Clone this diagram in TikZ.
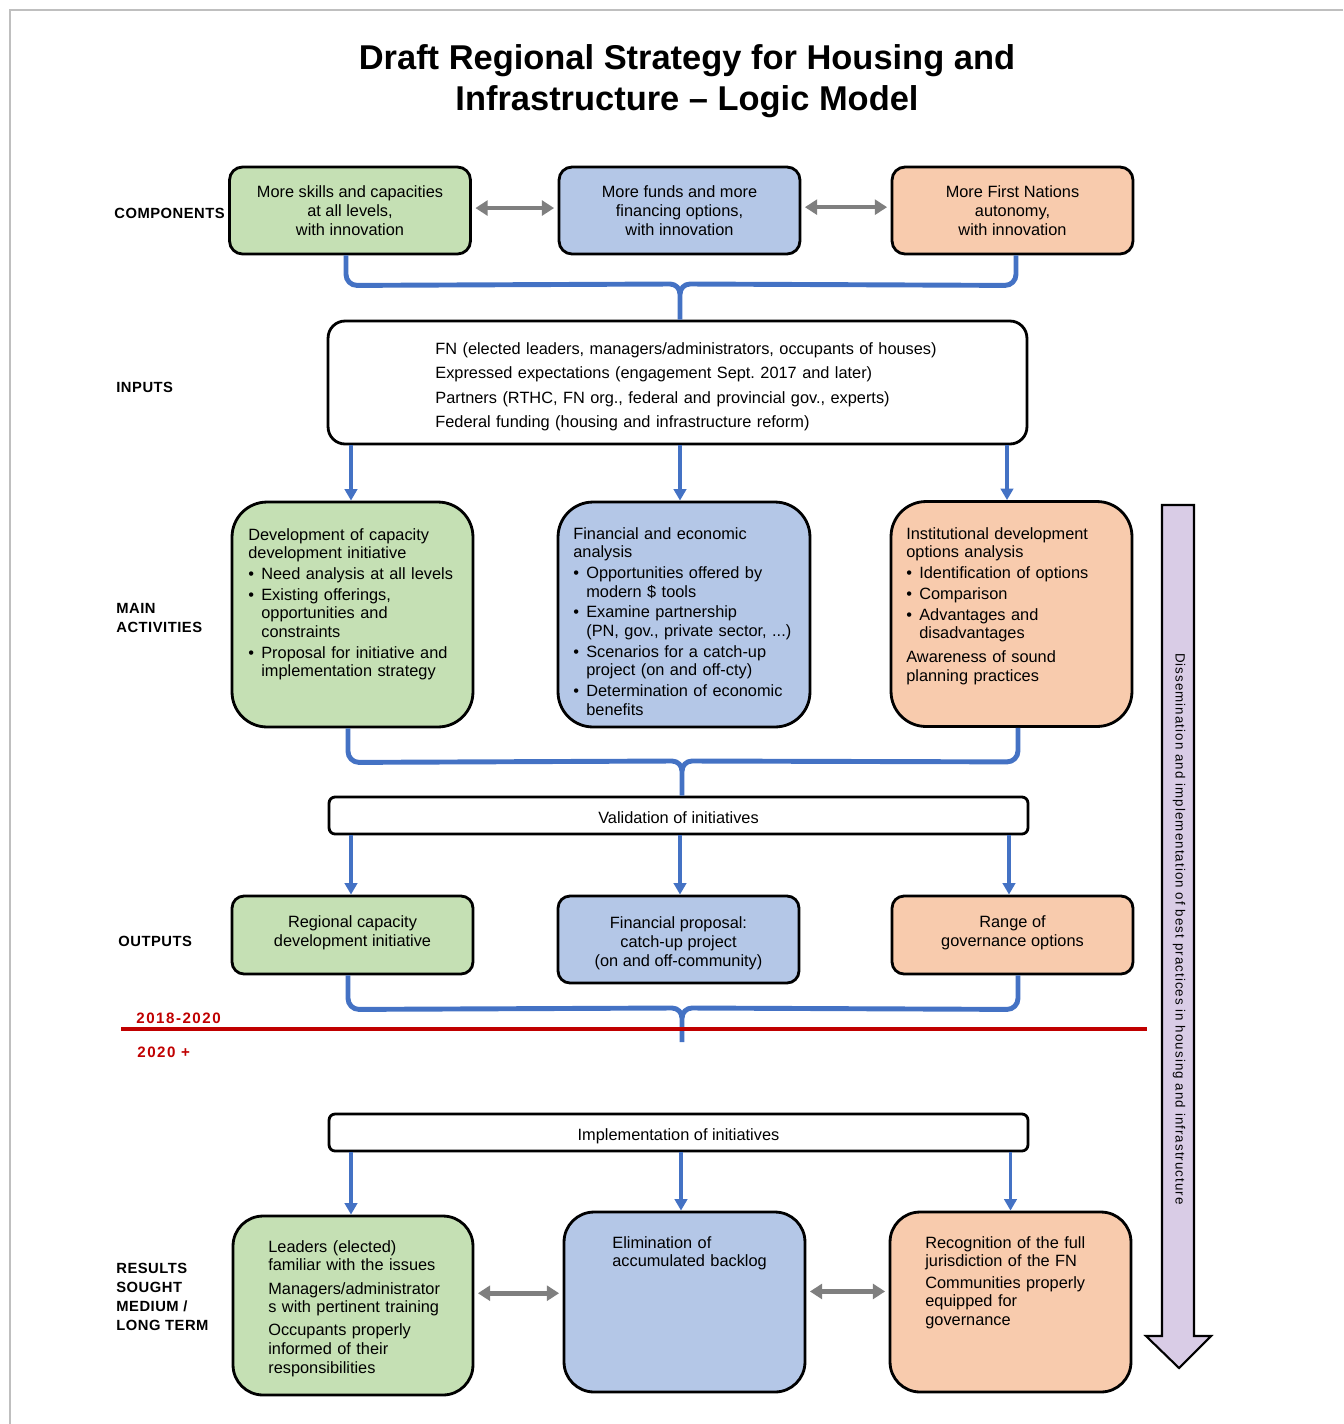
\documentclass[tikz,border=0pt]{standalone}
\usepackage{fontspec}
\setmainfont{Liberation Sans}
\newfontfamily\capsfont[LetterSpace=3.5]{Liberation Sans}
\newfontfamily\yearfont[LetterSpace=10]{Liberation Sans}
\newfontfamily\sidefont[LetterSpace=8]{Liberation Sans}
\usetikzlibrary{arrows.meta,calc}
\setlength{\parindent}{0pt}
\frenchspacing

\definecolor{skillgreen}{HTML}{C5E0B4}
\definecolor{fundblue}{HTML}{B4C7E7}
\definecolor{autopeach}{HTML}{F8CBAD}
\definecolor{sidelilac}{HTML}{D9CCE6}
\definecolor{linkblue}{HTML}{4472C4}
\definecolor{linkgray}{HTML}{7F7F7F}
\definecolor{yearred}{HTML}{C00000}
\definecolor{framegray}{HTML}{BFBFBF}

\newcommand\bul[1]{\par\vspace{1.2pt}\hangindent=7.4pt\hangafter=1\makebox[7.4pt][l]{\textbullet}#1}

\tikzset{
	cbox/.style={draw=black, line width=1.6pt, inner sep=0pt, align=center,
		font=\fontsize{9.3}{11}\selectfont},
	compbox/.style={cbox, minimum width=4.82cm, minimum height=1.74cm, rounded corners=0.26cm},
	widebox/.style={cbox, fill=white, minimum width=13.98cm, minimum height=2.46cm, rounded corners=0.34cm},
	actbox/.style={cbox, minimum height=4.5cm, rounded corners=0.7cm},
	stepbar/.style={cbox, fill=white, minimum width=13.98cm, minimum height=0.74cm, rounded corners=0.12cm,
		text height=9.4pt, text depth=0pt},
	outbox/.style={cbox, minimum width=4.82cm, rounded corners=0.24cm},
	resbox/.style={cbox, minimum width=4.82cm, minimum height=3.6cm, rounded corners=0.6cm},
	boxtext/.style={anchor=north west, inner sep=0pt, align=left, text width=4.7cm,
		font=\fontsize{9.3}{10.6}\selectfont},
	outtext/.style={inner sep=0pt, align=center, font=\fontsize{9.3}{10.9}\selectfont},
	rowlabel/.style={anchor=west, inner sep=0pt, align=left,
		font=\capsfont\bfseries\fontsize{8.4}{10.8}\selectfont},
	yearlabel/.style={anchor=west, inner sep=0pt, text=yearred,
		font=\yearfont\bfseries\fontsize{8.6}{10.8}\selectfont},
	title/.style={align=center, inner sep=0pt, font=\bfseries\fontsize{19.6}{23.2}\selectfont},
	flow/.style={draw=linkblue, line width=1.8pt, -{Triangle[length=6.5pt,width=7pt]}},
	brace/.style={draw=linkblue, line width=2.8pt, line join=round},
	twoway/.style={draw=linkgray, line width=2.6pt, shorten <=2pt, shorten >=2pt,
		{Triangle[length=7pt,width=8.5pt]}-{Triangle[length=7pt,width=8.5pt]}},
}

\begin{document}
\begin{tikzpicture}[x=0.02cm,y=-0.02cm]
	\useasboundingbox (0,0) rectangle (1343,1424);
	\draw[framegray, line width=0.6pt] (1343,10) -- (10,10) -- (10,1424);
	
	%%%%% TITLE %%%%%
	\node[title] (title) at (687,81) {Draft Regional Strategy for Housing and\\Infrastructure – Logic Model};
	
	%%%%% ROW LABELS %%%%%
	\node[rowlabel] (lcomp) at (114,213) {COMPONENTS};
	\node[rowlabel] (linput) at (116,387) {INPUTS};
	\node[rowlabel] (lact) at (116,618) {MAIN\\ACTIVITIES};
	\node[rowlabel] (lout) at (118,941) {OUTPUTS};
	\node[rowlabel] (lres) at (116,1297) {RESULTS\\SOUGHT\\MEDIUM /\\LONG TERM};
	\node[yearlabel] (lyear1) at (136,1018) {2018-2020};
	\node[yearlabel] (lyear2) at (137,1052) {2020 +};
	
	%%%%% COMPONENTS %%%%%
	\node[compbox, fill=skillgreen] (comp1) at (350,210.5) {More skills and capacities\\at all levels,\\with innovation};
	\node[compbox, fill=fundblue] (comp2) at (679.5,210.5) {More funds and more\\financing options,\\with innovation};
	\node[compbox, fill=autopeach] (comp3) at (1012.5,210.5) {More First Nations\\autonomy,\\with innovation};
	\draw[twoway] ([yshift=1.4pt]comp1.east) -- ([yshift=1.4pt]comp2.west);
	\draw[twoway] ([yshift=1.9pt]comp2.east) -- ([yshift=1.9pt]comp3.west);
	
	%%%%% INPUTS %%%%%
	\node[widebox] (inputs) at (677.5,382.5) {};
	\node[boxtext, text width=12cm, font=\fontsize{9.3}{13.9}\selectfont] (inputtext) at (435,342)
		{FN (elected leaders, managers/administrators, occupants of houses)\\
		Expressed expectations (engagement Sept. 2017 and later)\\
		Partners (RTHC, FN org., federal and provincial gov., experts)\\
		Federal funding (housing and infrastructure reform)};
	
	\coordinate (j1) at (680,284);
	\draw[brace] ([xshift=-0.08cm]comp1.south) -- ++(0,19) to[out=-90,in=180] ++(11,11)
		-- ([xshift=-0.2cm]j1) to[out=0,in=90] ([yshift=-0.2cm]j1) -- (j1 |- inputs.north);
	\draw[brace] ([xshift=0.07cm]comp3.south) -- ++(0,19) to[out=-90,in=0] ++(-11,11)
		-- ([xshift=0.2cm]j1) to[out=180,in=90] ([yshift=-0.2cm]j1);
	
	%%%%% MAIN ACTIVITIES %%%%%
	\node[actbox, fill=skillgreen, minimum width=4.82cm] (act1) at (352.5,614.5) {};
	\node[actbox, fill=fundblue, minimum width=5.04cm] (act2) at (684,614.5) {};
	\node[actbox, fill=autopeach, minimum width=4.82cm] (act3) at (1011.5,614) {};
	
	\node[boxtext] (act1text) at (248,528) {Development of capacity\newline development initiative
		\bul{Need analysis at all levels}\bul{Existing offerings,\newline opportunities and\newline constraints}
		\bul{Proposal for initiative and\newline implementation strategy}\par};
	\node[boxtext] (act2text) at (573,527) {Financial and economic\newline analysis
		\bul{Opportunities offered by\newline modern \$ tools}\bul{Examine partnership\newline (PN, gov., private sector, ...)}
		\bul{Scenarios for a catch-up\newline project (on and off-cty)}\bul{Determination of economic\newline benefits}\par};
	\node[boxtext] (act3text) at (906,527) {Institutional development\newline options analysis
		\bul{Identification of options}\bul{Comparison}\bul{Advantages and\newline disadvantages}
		\par\vspace{3pt}Awareness of sound\newline planning practices};
	
	\draw[flow] ([xshift=-0.03cm]inputs.south -| act1.north) -- ([xshift=-0.03cm]act1.north);
	\draw[flow] ([xshift=-0.08cm]inputs.south -| act2.north) -- ([xshift=-0.08cm]act2.north);
	\draw[flow] ([xshift=-0.09cm]inputs.south -| act3.north) -- ([xshift=-0.09cm]act3.north);
	
	%%%%% VALIDATION %%%%%
	\node[stepbar] (valid) at (678.5,815.5) {Validation of initiatives};
	
	\coordinate (j2) at (682,761);
	\draw[brace] ([xshift=-0.09cm]act1.south) -- ++(0,23) to[out=-90,in=180] ++(11,11)
		-- ([xshift=-0.2cm]j2) to[out=0,in=90] ([yshift=-0.2cm]j2) -- (j2 |- valid.north);
	\draw[brace] ([xshift=0.13cm]act3.south) -- ++(0,23) to[out=-90,in=0] ++(-11,11)
		-- ([xshift=0.2cm]j2) to[out=180,in=90] ([yshift=-0.2cm]j2);
	
	%%%%% OUTPUTS %%%%%
	\node[outbox, fill=skillgreen, minimum height=1.56cm] (out1) at (352.5,935) {};
	\node[outbox, fill=fundblue, minimum height=1.74cm] (out2) at (678.5,939.5) {};
	\node[outbox, fill=autopeach, minimum height=1.56cm] (out3) at (1012.5,935) {};
	\node[outtext] (out1text) at (352.5,933) {Regional capacity\\development initiative};
	\node[outtext] (out2text) at (678.5,943.5) {Financial proposal:\\catch-up project\\(on and off-community)};
	\node[outtext] (out3text) at (1012.5,933) {Range of\\governance options};
	
	\draw[flow] ([xshift=-0.03cm]valid.south -| out1.north) -- ([xshift=-0.03cm]out1.north);
	\draw[flow] ([xshift=0.03cm]valid.south -| out2.north) -- ([xshift=0.03cm]out2.north);
	\draw[flow] ([xshift=-0.07cm]valid.south -| out3.north) -- ([xshift=-0.07cm]out3.north);
	
	\coordinate (j3) at (682,1008);
	\coordinate (tail3) at (682,1042);
	\draw[brace] ([xshift=-0.09cm]out1.south) -- ++(0,23) to[out=-90,in=180] ++(11,11)
		-- ([xshift=-0.2cm]j3) to[out=0,in=90] ([yshift=-0.2cm]j3) -- (tail3);
	\draw[brace] ([xshift=0.11cm]out3.south) -- ++(0,23) to[out=-90,in=0] ++(-11,11)
		-- ([xshift=0.2cm]j3) to[out=180,in=90] ([yshift=-0.2cm]j3);
	
	%%%%% PERIOD LINE %%%%%
	\draw[yearred, line width=2.2pt] (121,1029) -- (1147,1029);
	
	%%%%% IMPLEMENTATION %%%%%
	\node[stepbar] (impl) at (678.5,1132.5) {Implementation of initiatives};
	
	%%%%% RESULTS %%%%%
	\node[resbox, fill=skillgreen, minimum width=4.8cm, minimum height=3.58cm] (res1) at (353,1305.5) {};
	\node[resbox, fill=fundblue] (res2) at (684.5,1302) {};
	\node[resbox, fill=autopeach] (res3) at (1010.5,1302) {};
	
	\node[boxtext] (res1text) at (268,1240) {Leaders (elected)\newline familiar with the issues
		\par\vspace{2.6pt}Managers/administrator\newline s with pertinent training
		\par\vspace{2.6pt}Occupants properly\newline informed of their\newline responsibilities};
	\node[boxtext] (res2text) at (612,1236) {Elimination of\newline accumulated backlog};
	\node[boxtext] (res3text) at (925,1236) {Recognition of the full\newline jurisdiction of the FN
		\par\vspace{1.5pt}Communities properly\newline equipped for\newline governance};
	
	\draw[flow] ([xshift=-0.04cm]impl.south -| res1.north) -- ([xshift=-0.04cm]res1.north);
	\draw[flow] ([xshift=-0.07cm]impl.south -| res2.north) -- ([xshift=-0.07cm]res2.north);
	\draw[flow] (impl.south -| res3.north) -- (res3.north);
	
	\draw[twoway] ([yshift=5pt]res2.west -| res1.east) -- ([yshift=5pt]res2.west);
	\draw[twoway] ([yshift=6pt]res2.east) -- ([yshift=6pt]res3.west);
	
	%%%%% SIDE ARROW %%%%%
	\draw[fill=sidelilac, line width=1.2pt, line join=miter] (1162,505) -- (1194,505) -- (1194,1336)
		-- (1211,1336) -- (1179,1368) -- (1146,1336) -- (1162,1336) -- cycle;
	\node[rotate=-90, inner sep=0pt, font=\sidefont\fontsize{7.6}{9}\selectfont] (sidetext) at (1179,929)
		{Dissemination and implementation of best practices in housing and infrastructure};
	
\end{tikzpicture}
\end{document}
